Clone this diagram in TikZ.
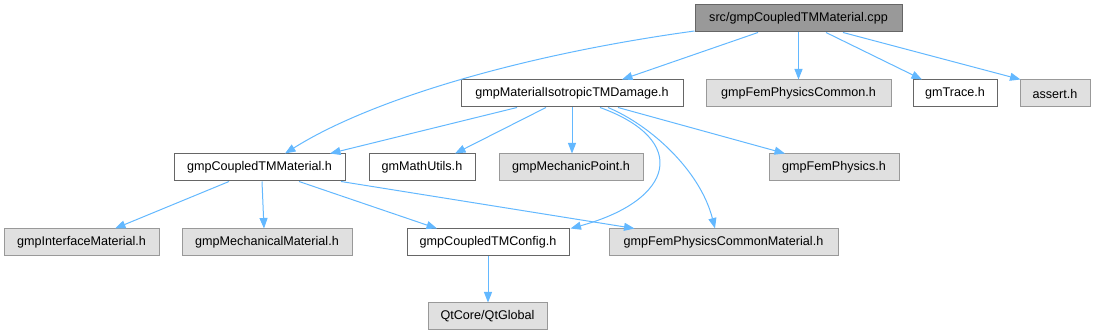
\documentclass[tikz,border=0pt]{standalone}
\usepackage{fontspec}
\setmainfont{Liberation Sans}
\usetikzlibrary{arrows.meta}
\definecolor{edgeblue}{HTML}{63B8FF}
\definecolor{rootfill}{HTML}{999999}
\definecolor{darkborder}{HTML}{666666}
\definecolor{grayfill}{HTML}{E0E0E0}
\definecolor{grayborder}{HTML}{999999}
\tikzset{
  base/.style={rectangle, inner sep=0pt, minimum height=27pt, line width=1pt,
    font=\fontsize{12.6}{14}\selectfont, text=black},
  rootbox/.style={base, draw=darkborder, fill=rootfill},
  wbox/.style={base, draw=darkborder, fill=white},
  gbox/.style={base, draw=grayborder, fill=grayfill},
  edge/.style={draw=edgeblue, line width=1pt, -{Triangle[length=10.5pt,width=8pt]}},
}
\begin{document}
\begin{tikzpicture}[x=1pt,y=-1pt]
\useasboundingbox (0,0) rectangle (1095,336);
% nodes
\node[rootbox, minimum width=207pt] (root) at (798.5,18.5) {src/gmpCoupledTMMaterial.cpp};
\node[wbox, minimum width=222pt] (dmg) at (572,93.5) {gmpMaterialIsotropicTMDamage.h};
\node[gbox, minimum width=185pt] (fpc) at (798.5,93.5) {gmpFemPhysicsCommon.h};
\node[wbox, minimum width=84pt] (trace) at (955,93.5) {gmTrace.h};
\node[gbox, minimum width=70pt] (assert) at (1055,93.5) {assert.h};
\node[wbox, minimum width=171pt] (ctm) at (259.5,167.5) {gmpCoupledTMMaterial.h};
\node[wbox, minimum width=106pt] (math) at (422,167.5) {gmMathUtils.h};
\node[gbox, minimum width=144pt] (mp) at (571,167.5) {gmpMechanicPoint.h};
\node[gbox, minimum width=130pt] (fp) at (834,167.5) {gmpFemPhysics.h};
\node[gbox, minimum width=155pt] (intf) at (81.5,242.5) {gmpInterfaceMaterial.h};
\node[gbox, minimum width=170pt] (mech) at (267,242.5) {gmpMechanicalMaterial.h};
\node[wbox, minimum width=162pt] (cfg) at (488,242.5) {gmpCoupledTMConfig.h};
\node[gbox, minimum width=229pt] (fpcm) at (723.5,242.5) {gmpFemPhysicsCommonMaterial.h};
\node[gbox, minimum width=119pt] (qt) at (487.5,316.5) {QtCore/QtGlobal};
% edges from root
\draw[edge] ([yshift=-12.5pt]root.west) .. controls (520,55) and (370,100) .. ([xshift=25.5pt]ctm.north);
\draw[edge] ([xshift=-40.5pt]root.south) -- ([xshift=50pt]dmg.north);
\draw[edge] (root.south) -- (fpc.north);
\draw[edge] ([xshift=27.5pt]root.south) -- ([xshift=-33pt]trace.north);
\draw[edge] ([xshift=44.5pt]root.south) -- ([xshift=1pt]assert.north west);
% edges from dmg
\draw[edge] ([xshift=-55pt]dmg.south) -- ([xshift=70.5pt]ctm.north);
\draw[edge] ([xshift=-26pt]dmg.south) -- ([xshift=33pt]math.north);
\draw[edge] (dmg.south) -- (dmg.south |- mp.north);
\draw[edge] ([xshift=46pt]dmg.south) -- ([xshift=-49pt]fp.north);
\draw[edge] ([xshift=28pt]dmg.south) .. controls (690,140) and (675,200) .. ([xshift=1pt]cfg.north east);
\draw[edge] ([xshift=36pt]dmg.south) .. controls (650,125) and (700,170) .. ([xshift=-8.5pt]fpcm.north);
% edges from ctm
\draw[edge] ([xshift=-30.5pt]ctm.south) -- ([xshift=33.5pt]intf.north);
\draw[edge] ([xshift=2.5pt]ctm.south) -- ([xshift=-3pt]mech.north);
\draw[edge] ([xshift=39.5pt]ctm.south) -- ([xshift=-51pt]cfg.north);
\draw[edge] ([xshift=81.5pt]ctm.south) -- ([xshift=26pt]fpcm.north west);
% edges from cfg
\draw[edge] (cfg.south) -- (cfg.south |- qt.north);
\end{tikzpicture}
\end{document}
